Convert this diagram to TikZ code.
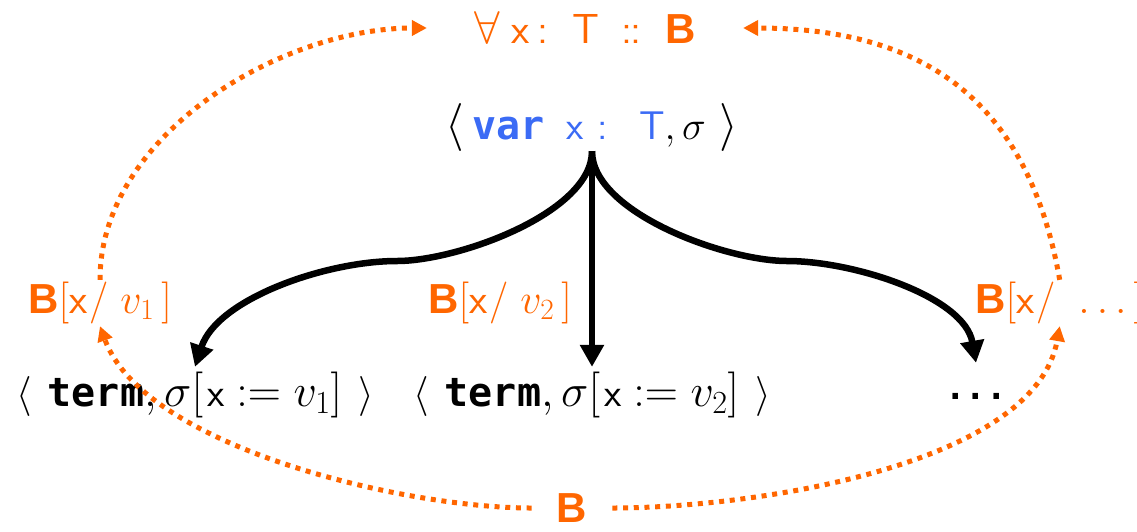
\documentclass[tikz,border=0pt]{standalone}
\usepackage{fix-cm}
\usepackage{amsmath}
\usepackage{fontspec}
\newfontfamily\monofont{DejaVu Sans Mono}
\newfontfamily\arialfont{Liberation Sans}
\usetikzlibrary{arrows.meta}
\definecolor{corange}{RGB}{255,102,0}
\definecolor{cblue}{RGB}{59,107,245}
\newcommand{\kw}[1]{{\fontsize{40}{48}\selectfont\monofont\bfseries #1}}
\newcommand{\bB}{{\arialfont\bfseries B}}
\newcommand{\vx}{\textsf{x}}
\newcommand{\sz}[2]{{\fontsize{#1}{#1}\selectfont #2}}
\tikzset{semfig/.style={x=1pt,y=1pt,font=\fontsize{42}{50}\selectfont,inner sep=0pt}}
\tikzset{branch/.style={line width=6.5pt,-{Triangle[length=22pt,width=23pt]}}}
\tikzset{lift/.style={corange,line width=5pt,dash pattern=on 5pt off 5.7pt,-{Triangle[length=15pt,width=15pt]}}}
\tikzset{lbl/.style={text=corange,inner ysep=2pt}}
\tikzset{conf/.style={inner ysep=5pt,font=\fontsize{46}{54}\selectfont}}

\begin{document}
\begin{tikzpicture}[semfig]
    \useasboundingbox (0,0) rectangle (1137,-531);
    % goal and state
    \node[lbl,inner xsep=47pt] (top) at (585,-28) {\sz{46}{$\forall$}\hspace{12pt}\vx\hspace{8pt}\textsf{:}\hspace{24pt}\textsf{T}\hspace{22pt}\textsf{:\hspace{-2pt}:}\hspace{24pt}\bB};
    \node (state) at (592,-127) {\sz{48}{$\langle$}\hspace{8pt}{\color{cblue}\kw{var}\hspace{22pt}\sz{40}{\vx\hspace{14pt}\textsf{:}\hspace{31pt}\textsf{T}}}\sz{40}{$,\sigma$}\hspace{14pt}\sz{48}{$\rangle$}};
    % successors
    \node[conf] (t1) at (195,-395) {\sz{40}{$\langle$}\hspace{16pt}\kw{term}$,\sigma[$\hspace{4pt}\sz{40}{\vx}\hspace{12pt}$:=v_1]$\hspace{16pt}\sz{40}{$\rangle$}};
    \node[conf] (t2) at (592,-395) {\sz{40}{$\langle$}\hspace{16pt}\kw{term}$,\sigma[$\hspace{4pt}\sz{40}{\vx}\hspace{12pt}$:=v_2]$\hspace{16pt}\sz{40}{$\rangle$}};
    \node[inner ysep=30pt] (more) at (976,-396) {\sz{34}{\monofont\bfseries ...}};
    % substitutions
    \node[lbl] (l1) at (100,-303) {\bB$[\vx\hspace{2pt}/\hspace{12pt}v_1\,]$};
    \node[lbl] (l2) at (500,-303) {\bB$[\vx\hspace{2pt}/\hspace{12pt}v_2\,]$};
    \node[lbl,anchor=west] (l3) at (975,-303) {\bB$[\vx\hspace{2pt}/\hspace{16pt}\ldots\,]$};
    \node[lbl,inner xsep=25pt] (bot) at (572,-508) {\bB};
    % evaluation steps
    \coordinate (fork) at (t2.north |- state.south);
    \coordinate (bendl) at (397,-261);
    \coordinate (bendr) at (787,-261);
    \draw[branch] (fork) to[out=-90,in=0,looseness=0.7] (bendl) to[out=180,in=72,looseness=0.8] (t1.north);
    \draw[branch] (fork) -- (t2.north);
    \draw[branch] (fork) to[out=-90,in=180,looseness=0.7] (bendr) to[out=0,in=100,looseness=0.8] (more.north);
    % proof obligations
    \draw[lift] (l1.north) to[out=90,in=180,looseness=0.9] (top.west);
    \draw[lift] (l3.north) to[out=100,in=0,looseness=1.15] (top.east);
    \draw[lift] (bot.west) to[out=180,in=-70,looseness=0.7] (l1.south);
    \draw[lift] (bot.east) to[out=0,in=-100,looseness=0.75] (l3.south);
\end{tikzpicture}
\end{document}
